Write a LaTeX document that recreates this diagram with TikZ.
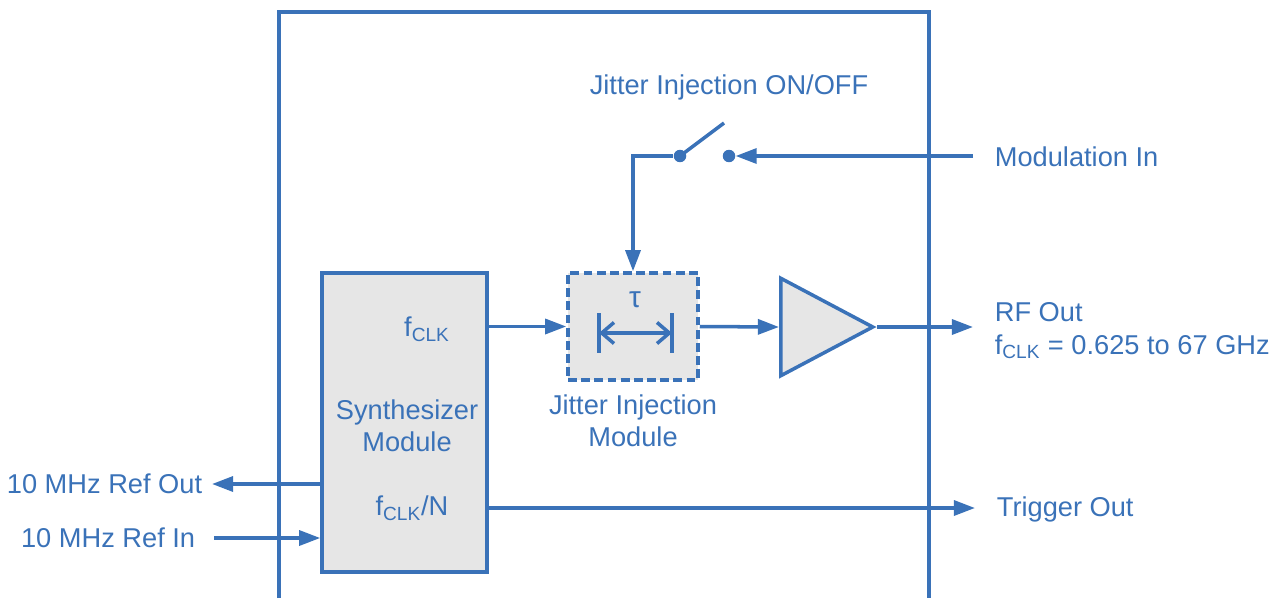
\documentclass[tikz,border=0pt]{standalone}
\usepackage{fontspec}
\setmainfont{Liberation Sans}
\usetikzlibrary{arrows.meta, calc, positioning, shapes.geometric}
\definecolor{kblue}{HTML}{3A72B8}
\definecolor{kgrey}{HTML}{E6E6E6}
\tikzset{
  % signal line style
  garr/.style={
    line width = 2pt
    , draw=kblue
  },
  % filled arrow head
  farr/.style={
    -{Triangle[length=12pt,width=8.5pt]}
  },
}
\tikzset{
  % module box style
  module/.style={
    draw=kblue
    , fill=kgrey
    , line width=2pt
    , inner sep=0pt
    %, rounded corners
  },
  % text label style
  lbl/.style={
    text=kblue
    , font=\fontsize{15.5}{18.5}\selectfont
    , inner sep=2pt
  },
  % switch contact
  dot/.style={
    circle
    , fill=kblue
    , inner sep=0pt
    , minimum size=0.25cm
  },
}
\begin{document}
\begin{tikzpicture}[x=0.02cm, y=-0.02cm]
      \useasboundingbox (0,0) rectangle (1280,598);

      % instrument frame, open at the bottom
      \draw[garr] (279,598) -- (279,12) -- (929,12) -- (929,598);

      \node[module, minimum width=3.3cm, minimum height=5.98cm] (synth) at (404.5,422.5) {};
      \node[module, dash pattern=on 5pt off 2.5pt, minimum width=2.6cm, minimum height=2.14cm] (jit) at (633,326.5) {};
      \node[module, isosceles triangle, isosceles triangle stretches, shape border rotate=0,
            minimum width=1.95cm, minimum height=1.84cm, anchor=lower side] (amp) at (779,327) {};

      \node[lbl] (fclk) at (427,329) {f\textsubscript{CLK}};
      \node[lbl, align=center] (synlbl) at (407,426) {Synthesizer\\Module};
      \node[lbl] (fn) at (412,508) {f\textsubscript{CLK}/N};
      \node[lbl, font=\fontsize{17}{20}\selectfont] (tau) at (635,300) {τ};
      \node[lbl, align=center] (jitlbl) at (633,421) {Jitter Injection\\Module};
      \node[lbl] (onoff) at (729,87) {Jitter Injection ON/OFF};
      \node[lbl, anchor=west] (modin) at (991,157) {Modulation In};
      \node[lbl, anchor=west, align=left] (rfout) at (991,331) {RF Out\\f\textsubscript{CLK} = 0.625 to 67 GHz};
      \node[lbl, anchor=west] (trig) at (993,509) {Trigger Out};
      \node[lbl, anchor=east] (refout) at (206,484) {10 MHz Ref Out};
      \node[lbl, anchor=east] (refin) at (199,538) {10 MHz Ref In};

      % jitter on/off switch
      \node[dot] (swl) at (680,156) {};
      \node[dot] (swr) at (729,156) {};
      \coordinate (lever) at (724,123);
      \draw[garr] (swl.center) -- (lever);

      \draw[garr,farr] (swl.west) -| (jit.north);
      \draw[garr,farr] ([xshift=-0.36cm]modin.west |- swr) -- (swr.east);

      % delay marker
      \coordinate (taul) at (599,333);
      \coordinate (taur) at (672,333);
      \draw[garr] ([yshift=0.4cm]taul) -- ([yshift=-0.4cm]taul);
      \draw[garr] ([yshift=0.4cm]taur) -- ([yshift=-0.4cm]taur);
      \draw[garr,{Straight Barb[length=7pt,width=12pt]}-{Straight Barb[length=7pt,width=12pt]}] (taul) -- (taur);

      \draw[garr,farr] (synth.east |- jit.west) -- (jit.west);
      \draw[garr,farr] (jit.east) -- (amp.lower side);
      \draw[garr,farr] (amp.apex) -- ([xshift=-0.36cm]rfout.west |- amp.apex);

      \draw[garr,farr] (synth.east |- fn) -- ([xshift=-0.36cm]trig.west |- fn);
      \draw[garr,farr] (synth.west |- refout) -- ([xshift=0.12cm]refout.east);
      \draw[garr,farr] ([xshift=0.3cm]refin.east) -- (synth.west |- refin);
    \end{tikzpicture}
\end{document}
